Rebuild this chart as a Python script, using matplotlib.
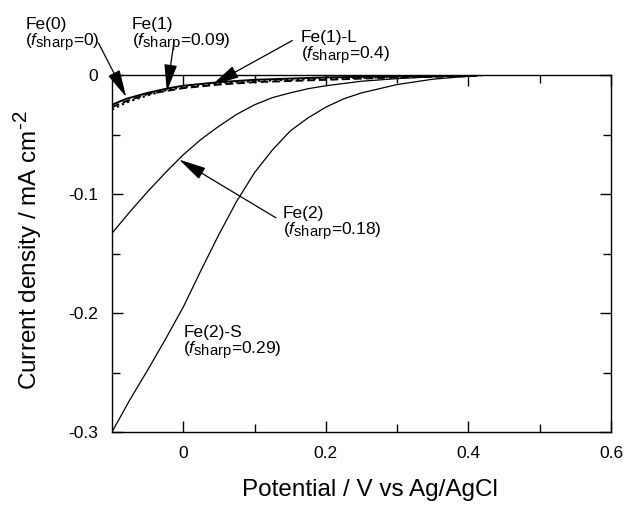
import matplotlib
matplotlib.use("Agg")
import matplotlib.pyplot as plt
import matplotlib._mathtext as _mt
import numpy as np

_mt.SHRINK_FACTOR = 0.85

plt.rcParams['font.family'] = ['Liberation Sans', 'DejaVu Sans']
plt.rcParams['mathtext.fontset'] = 'custom'
plt.rcParams['mathtext.rm'] = 'Liberation Sans'
plt.rcParams['mathtext.it'] = 'Liberation Sans:italic'
plt.rcParams['axes.unicode_minus'] = False

# Data (potential V vs Ag/AgCl, current density mA cm-2)
fe0_x = [-0.1, -0.08, -0.05, -0.02, 0.0, 0.05, 0.1, 0.2, 0.3, 0.4, 0.42]
fe0_y = [-0.025, -0.020, -0.015, -0.011, -0.009, -0.006, -0.004, -0.002, -0.001, -0.0003, 0.0]

fe1_x = [-0.1, -0.08, -0.05, -0.02, 0.0, 0.05, 0.1, 0.2, 0.3, 0.4, 0.42]
fe1_y = [-0.029, -0.023, -0.017, -0.012, -0.010, -0.007, -0.005, -0.003, -0.0015, -0.0005, 0.0]

fe1L_x = [-0.1, -0.08, -0.05, -0.02, 0.0, 0.05, 0.1, 0.2, 0.3, 0.4, 0.42]
fe1L_y = [-0.027, -0.022, -0.016, -0.013, -0.011, -0.008, -0.006, -0.004, -0.002, -0.001, 0.0]

fe2_x = [-0.1, -0.075, -0.05, -0.025, 0.0, 0.025, 0.05, 0.075, 0.1, 0.125, 0.15, 0.175, 0.2, 0.25, 0.3, 0.35, 0.4, 0.42]
fe2_y = [-0.133, -0.115, -0.098, -0.082, -0.067, -0.054, -0.043, -0.033, -0.025, -0.019, -0.015, -0.0115, -0.009, -0.0052, -0.003, -0.0015, -0.0005, 0.0]

fe2s_x = [-0.1, -0.075, -0.05, -0.025, 0.0, 0.025, 0.05, 0.075, 0.1, 0.125, 0.15, 0.175, 0.2, 0.225, 0.25, 0.3, 0.35, 0.4, 0.42]
fe2s_y = [-0.3, -0.273, -0.248, -0.222, -0.195, -0.164, -0.134, -0.106, -0.082, -0.063, -0.047, -0.036, -0.027, -0.020, -0.015, -0.008, -0.0035, -0.001, 0.0]

xticks = [0, 0.2, 0.4, 0.6]
yticks = [0, -0.1, -0.2, -0.3]
xticklabels = ['0', '0.2', '0.4', '0.6']
yticklabels = ['0', '-0.1', '-0.2', '-0.3']

fig = plt.figure(figsize=(6.27, 5.07), dpi=100)
ax = fig.add_axes([0.1786, 0.1479, 0.7959, 0.7041])

ax.plot(fe2s_x, fe2s_y, color='black', lw=0.9)
ax.plot(fe2_x, fe2_y, color='black', lw=0.9)
ax.plot(fe1L_x, fe1L_y, color='black', lw=1.4, ls=(0, (4, 2)))
ax.plot(fe1_x, fe1_y, color='black', lw=1.6, ls=(0, (1, 1.5)))
ax.plot(fe0_x, fe0_y, color='black', lw=1.4)

ax.set_xlim(-0.1, 0.6)
ax.set_ylim(-0.3, 0.0)
ax.set_xticks(xticks)
ax.set_xticklabels(xticklabels)
ax.set_yticks(yticks)
ax.set_yticklabels(yticklabels)
ax.set_xticks([0.1, 0.3, 0.5], minor=True)
ax.set_yticks([-0.05, -0.15, -0.25], minor=True)
ax.tick_params(which='both', direction='in', top=True, right=True, labelsize=12.5, pad=10, width=1.0)
ax.tick_params(which='major', length=8)
ax.tick_params(which='minor', length=6)
for s in ax.spines.values():
    s.set_linewidth(1.0)

ax.set_xlabel('Potential / V vs Ag/AgCl', fontsize=17.5)
ax.set_ylabel(r'Current density / mA cm$^{\text{-}2}$', fontsize=17.5)
ax.xaxis.set_label_coords(0.517, -0.162)
ax.yaxis.set_label_coords(-0.168, 0.51)
ax.xaxis.label.set_va('center')
ax.yaxis.label.set_va('center')

ap = dict(arrowstyle='-|>,head_length=0.85,head_width=0.2', mutation_scale=20,
          lw=0.9, color='black', shrinkA=0, shrinkB=0)
fs = 12.5

def lab(name, val):
    return name + '\n(' + r'$\mathit{f}_{\mathrm{sharp}}$' + '=' + val + ')'

ax.annotate('', xy=(-0.08, -0.0185), xytext=(-0.119, 0.027), arrowprops=ap, annotation_clip=False)
ax.text(-0.2215, 0.049, lab('Fe(0)', '0'), fontsize=fs, va='top', ha='left', linespacing=1.0)

ax.annotate('', xy=(-0.023, -0.014), xytext=(-0.013, 0.028), arrowprops=ap, annotation_clip=False)
ax.text(-0.072, 0.049, lab('Fe(1)', '0.09'), fontsize=fs, va='top', ha='left', linespacing=1.0)

ax.annotate('', xy=(0.04, -0.0084), xytext=(0.153, 0.029), arrowprops=ap, annotation_clip=False)
ax.text(0.165, 0.038, lab('Fe(1)-L', '0.4'), fontsize=fs, va='top', ha='left', linespacing=1.0)

ax.annotate('', xy=(-0.006, -0.071), xytext=(0.13, -0.12), arrowprops=ap)
ax.text(0.14, -0.110, lab('Fe(2)', '0.18'), fontsize=fs, va='top', ha='left', linespacing=1.0)

ax.text(0.0, -0.210, lab('Fe(2)-S', '0.29'), fontsize=fs, va='top', ha='left', linespacing=1.0)

fig.savefig('out.png', dpi=100)
